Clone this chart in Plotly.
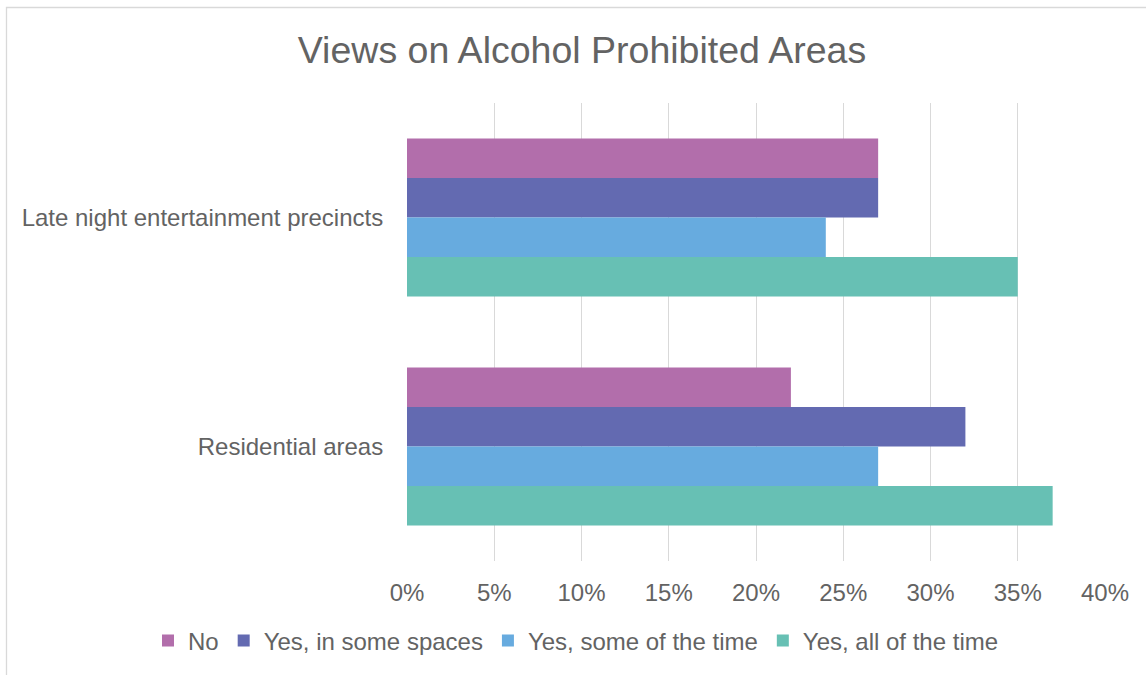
import plotly.graph_objects as go

categories = ["Late night entertainment precincts", "Residential areas"]
series_names = ["No", "Yes, in some spaces", "Yes, some of the time", "Yes, all of the time"]
no_vals = [0.27, 0.22]
some_spaces_vals = [0.27, 0.32]
some_time_vals = [0.24, 0.27]
all_time_vals = [0.35, 0.37]
colors = ["#B26EAB", "#636AB1", "#67ABDF", "#67C0B4"]
tick_vals = [0, 0.05, 0.10, 0.15, 0.20, 0.25, 0.30, 0.35, 0.40]
tick_text = ["0%", "5%", "10%", "15%", "20%", "25%", "30%", "35%", "40%"]

W, H = 1146, 675
L, R, T, B = 407, 41, 103, 114
pw, ph = W - L - R, H - T - B

FONT = "Liberation Sans, Arial, sans-serif"
TXT = "#636363"

fig = go.Figure()
for name, vals, col in zip(series_names, [no_vals, some_spaces_vals, some_time_vals, all_time_vals], colors):
    fig.add_trace(go.Bar(y=categories, x=vals, name=name, orientation="h",
                         marker=dict(color=col, line=dict(width=0))))

def px_x(x):
    return (x - L) / pw

def px_y(y):
    return (H - B - y) / ph

fig.update_layout(
    width=W, height=H,
    margin=dict(l=L, r=R, t=T, b=B, autoexpand=False),
    paper_bgcolor="white", plot_bgcolor="white",
    barmode="group", bargap=0.31, bargroupgap=0,
    font=dict(family=FONT, color=TXT, size=24),
    title=dict(text="Views on Alcohol Prohibited Areas", font=dict(size=37.5, color=TXT, family=FONT),
               x=582 / W, xanchor="center", xref="container",
               y=1 - 50 / H, yanchor="middle", yref="container"),
    xaxis=dict(range=[0, 0.40], tickvals=tick_vals, ticktext=tick_text,
               showgrid=True, gridcolor="#D9D9D9", gridwidth=1.3,
               zeroline=False, showline=False,
               ticks="outside", ticklen=10, tickcolor="rgba(0,0,0,0)",
               tickfont=dict(size=24, color=TXT, family=FONT), fixedrange=True),
    yaxis=dict(autorange="reversed", showgrid=False, zeroline=False, showline=False,
               ticks="outside", ticklen=18, tickcolor="rgba(0,0,0,0)",
               tickfont=dict(size=24, color=TXT, family=FONT), fixedrange=True),
    legend=dict(orientation="h", xref="paper", yref="paper",
                x=px_x(148), xanchor="left", y=px_y(641), yanchor="middle",
                font=dict(size=24, color=TXT, family=FONT), traceorder="normal",
                itemwidth=30, bgcolor="rgba(0,0,0,0)"),
    shapes=[dict(type="rect", xref="paper", yref="paper",
                 x0=px_x(6.5), x1=px_x(1160), y0=px_y(7.5), y1=px_y(690),
                 line=dict(color="#D9D9D9", width=1.3), fillcolor="rgba(0,0,0,0)", layer="below")],
)

fig.write_html("out.html", config={"displayModeBar": False},
               post_script="document.body.style.margin='0';")
